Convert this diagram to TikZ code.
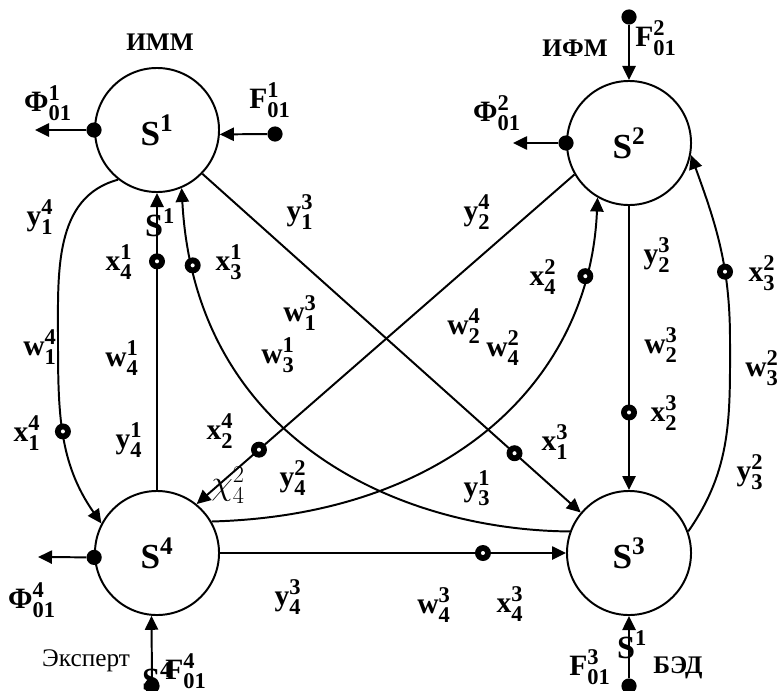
\documentclass[tikz,border=0pt]{standalone}
\usepackage{amsmath}
\usepackage{fontspec}
\setmainfont{Liberation Serif}
\usetikzlibrary{arrows.meta}
\DeclareMathSizes{21}{21}{16}{11}
\DeclareMathSizes{23}{23}{16}{12}
\DeclareMathSizes{25}{25}{18}{13}

\newcommand{\lbl}[3]{$\text{\bfseries #1}^{\text{\bfseries #3}}_{\text{\bfseries #2}}$}
\newcommand{\ssup}[2]{$\text{\bfseries #1}^{\text{\bfseries #2}}$}

\begin{document}
\begin{tikzpicture}[
    x=0.025cm, y=-0.025cm,
    sys/.style={draw, circle, line width=1.4pt, minimum size=3.1cm,
                inner sep=0pt, font=\fontsize{25}{28}\selectfont},
    lab/.style={inner sep=0pt, font=\fontsize{21}{24}\selectfont},
    big/.style={inner sep=0pt, font=\fontsize{23}{26}\selectfont},
    ttl/.style={inner sep=0pt, font=\bfseries\fontsize{18}{22}\selectfont},
    mk/.style={circle, fill=black, inner sep=0pt, minimum size=0.4cm,
               path picture={\fill[white] (path picture bounding box.center)
                 circle (0.05cm);}},
    blob/.style={circle, fill=black, inner sep=0pt, minimum size=0.38cm},
    link/.style={line width=1.4pt, -{Triangle[length=0.35cm, width=0.33cm]}}
  ]
  \useasboundingbox (0,0) rectangle (780,690);

  % Systems
  \node[sys] (S1) at (157,130) {\ssup{S}{1}};
  \node[sys] (S2) at (629,143) {\ssup{S}{2}};
  \node[sys] (S3) at (629,553) {\ssup{S}{3}};
  \node[sys] (S4) at (157,553) {\ssup{S}{4}};

  % Titles
  \node[ttl] (tIMM) at (160,42) {ИММ};
  \node[ttl] (tIFM) at (575,48) {ИФМ};
  \node[ttl] (tBED) at (678,668) {БЭД};
  \node[inner sep=0pt, font=\fontsize{18}{20}\selectfont] (tExp)
    at (86,661) {Эксперт};

  % Inputs and outputs
  \node[blob] (o1) at (S1.west) {};
  \coordinate (o1e) at (35,130);
  \draw[link] (o1) -- (o1e);
  \node[blob] (i1) at (275,134) {};
  \draw[link] (i1) -- (S1.-4);

  \node[blob] (i2) at (629,17) {};
  \draw[link] (i2) -- (S2.north);
  \node[blob] (o2) at (S2.west) {};
  \coordinate (o2e) at (513,143);
  \draw[link] (o2) -- (o2e);

  \node[blob] (i3) at (629,686) {};
  \draw[link] (i3) -- (S3.south);

  \node[blob] (o4) at (S4.184) {};
  \coordinate (o4e) at (38,557);
  \draw[link] (o4) -- (o4e);
  \node[blob] (i4) at (152,686) {};
  \draw[link] (i4) -- (S4.265);

  % Links
  \draw[link] (S1.232) to[out=195, in=90] (58,340)
    to[out=-90, in=125] node[mk, pos=0.47] (m14) {} (S4.152);
  \draw[link] (S4.north) -- node[mk, pos=0.77] (m41) {} (S1.south);
  \draw[link] (S3.160) .. controls (400,530) and (195,440) ..
    node[mk, pos=0.89] (m31) {} (S1.-67);
  \draw[link] (S4.30) .. controls (450,515) and (590,380) ..
    node[mk, pos=0.85] (m42) {} (S2.240);
  \draw[link] (S2.210) -- node[mk, pos=0.835] (m24) {} (S4.51);
  \draw[link] (S1.-44) -- node[mk, pos=0.825] (m13) {} (S3.140);
  \draw[link] (S2.south) -- node[mk, pos=0.727] (m23) {} (S3.north);
  \draw[link] (S3.20) to[out=55, in=-90] (730,340)
    to[out=90, in=-70] node[mk, pos=0.35] (m32) {} (S2.-11);
  \draw[link] (S4.east) -- node[mk, pos=0.76] (m43) {} (S3.west);

  % Labels
  \node[lab] (lF1) at (48,103) {\lbl{Φ}{01}{1}};
  \node[lab] (lI1) at (270,100) {\lbl{F}{01}{1}};
  \node[lab] (lI2) at (656,38) {\lbl{F}{01}{2}};
  \node[lab] (lF2) at (497,113) {\lbl{Φ}{01}{2}};
  \node[lab] (lF4) at (32,600) {\lbl{Φ}{01}{4}};
  \node[lab] (lI4) at (186,671) {\lbl{F}{01}{4}};
  \node[lab] (lI3) at (590,667) {\lbl{F}{01}{3}};

  \node[lab] (y14) at (40,217) {\lbl{y}{1}{4}};
  \node[lab] (w14) at (40,347) {\lbl{w}{1}{4}};
  \node[lab] (x14) at (27,433) {\lbl{x}{1}{4}};
  \node[lab] (x41) at (119,262) {\lbl{x}{4}{1}};
  \node[lab] (w41) at (122,358) {\lbl{w}{4}{1}};
  \node[lab] (y41) at (129,440) {\lbl{y}{4}{1}};
  \node[lab] (x31) at (229,262) {\lbl{x}{3}{1}};
  \node[lab] (w13) at (300,313) {\lbl{w}{1}{3}};
  \node[lab] (w31) at (278,355) {\lbl{w}{3}{1}};
  \node[lab] (y13) at (300,212) {\lbl{y}{1}{3}};
  \node[lab] (x24) at (220,431) {\lbl{x}{2}{4}};
  \node[lab] (y42) at (293,478) {\lbl{y}{4}{2}};
  \node[lab] (y24) at (477,212) {\lbl{y}{2}{4}};
  \node[lab] (w24) at (464,326) {\lbl{w}{2}{4}};
  \node[lab] (w42) at (503,348) {\lbl{w}{4}{2}};
  \node[lab] (x42) at (543,277) {\lbl{x}{4}{2}};
  \node[lab] (x13) at (555,442) {\lbl{x}{1}{3}};
  \node[lab] (y31) at (477,488) {\lbl{y}{3}{1}};
  \node[lab] (y23) at (657,255) {\lbl{y}{2}{3}};
  \node[lab] (w23) at (661,345) {\lbl{w}{2}{3}};
  \node[lab] (x23) at (664,413) {\lbl{x}{2}{3}};
  \node[lab] (x32) at (762,273) {\lbl{x}{3}{2}};
  \node[lab] (w32) at (762,368) {\lbl{w}{3}{2}};
  \node[lab] (y32) at (750,472) {\lbl{y}{3}{2}};
  \node[lab] (y43) at (288,597) {\lbl{y}{4}{3}};
  \node[lab] (w43) at (434,605) {\lbl{w}{4}{3}};
  \node[lab] (x43) at (510,604) {\lbl{x}{4}{3}};

  \node[inner sep=0pt, font=\fontsize{26}{30}\selectfont] (chi)
    at (228,485) {$\chi^2_4$};
  \node[big] (sA) at (160,223) {\ssup{S}{1}};
  \node[big] (sB) at (632,645) {\ssup{S}{1}};
  \node[big] (sC) at (157,677) {\ssup{S}{4}};

\end{tikzpicture}
\end{document}
